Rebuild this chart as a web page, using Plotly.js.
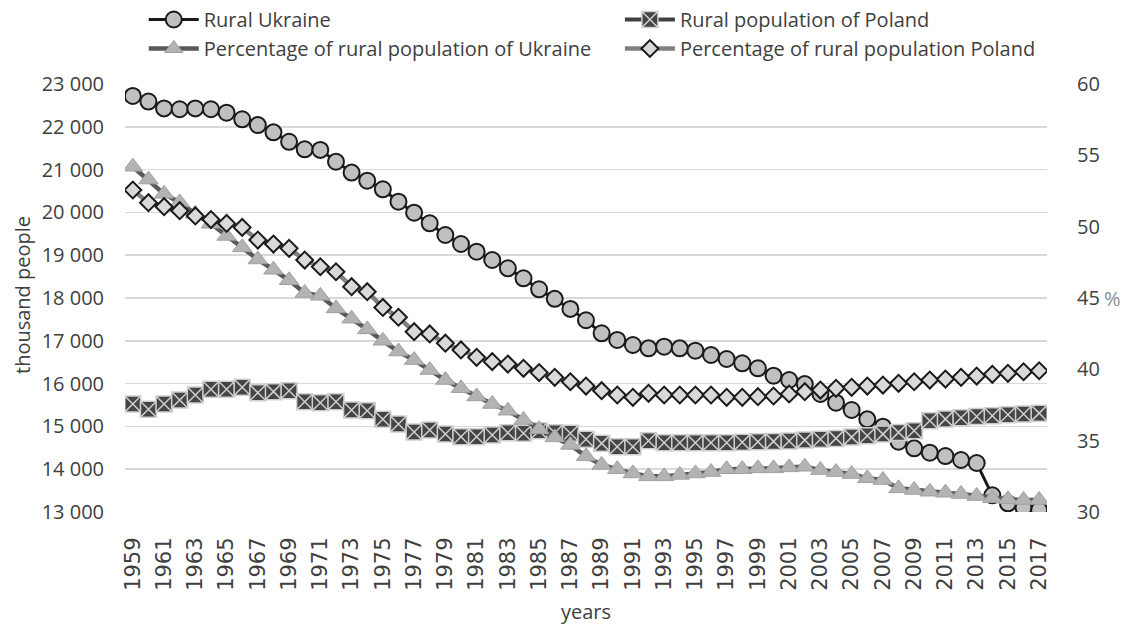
<!DOCTYPE html>
<html>
<head>
<meta charset="utf-8">
<script src="https://cdn.plot.ly/plotly-3.0.1.min.js"></script>
<style>html,body{margin:0;padding:0;background:#fff;}#chart{width:1123px;height:625px;}</style>
</head>
<body>
<div id="chart"></div>
<script>
const years = [1959,1960,1961,1962,1963,1964,1965,1966,1967,1968,1969,1970,1971,1972,1973,1974,1975,1976,1977,1978,1979,1980,1981,1982,1983,1984,1985,1986,1987,1988,1989,1990,1991,1992,1993,1994,1995,1996,1997,1998,1999,2000,2001,2002,2003,2004,2005,2006,2007,2008,2009,2010,2011,2012,2013,2014,2015,2016,2017];

const tickYears = [1959,1961,1963,1965,1967,1969,1971,1973,1975,1977,1979,1981,1983,1985,1987,1989,1991,1993,1995,1997,1999,2001,2003,2005,2007,2009,2011,2013,2015,2017];
const tickLabels = ["1959","1961","1963","1965","1967","1969","1971","1973","1975","1977","1979","1981","1983","1985","1987","1989","1991","1993","1995","1997","1999","2001","2003","2005","2007","2009","2011","2013","2015","2017"];

// thousand people (left axis)
const ruralUkraine = [22720,22590,22430,22410,22430,22410,22330,22175,22040,21870,21650,21475,21460,21185,20930,20740,20540,20250,19993,19745,19472,19262,19082,18888,18694,18460,18203,17980,17745,17480,17175,17020,16902,16824,16862,16824,16769,16668,16575,16474,16357,16185,16084,15991,15757,15554,15383,15165,14993,14643,14487,14386,14308,14215,14145,13390,13203,13100,13047];

const ruralPoland = [15524,15400,15524,15617,15734,15867,15867,15914,15788,15812,15835,15578,15554,15578,15383,15367,15165,15056,14870,14916,14822,14760,14760,14799,14853,14838,14900,14853,14838,14698,14604,14526,14526,14666,14620,14620,14620,14620,14620,14630,14640,14650,14660,14680,14700,14720,14750,14780,14820,14860,14900,15130,15170,15200,15230,15250,15270,15290,15310];

// percent (right axis)
const pctUkraine = [54.2,53.3,52.3,51.7,50.9,50.2,49.35,48.55,47.7,46.98,46.24,45.35,45.15,44.27,43.55,42.8,42.0,41.25,40.65,39.95,39.25,38.67,38.1,37.57,37.1,36.45,35.8,35.23,34.7,33.9,33.3,33.0,32.7,32.5,32.5,32.6,32.7,32.8,33.0,33.0,33.06,33.06,33.13,33.17,32.94,32.8,32.66,32.36,32.24,31.66,31.54,31.42,31.35,31.26,31.12,30.96,30.89,30.84,30.84];

const pctPoland = [52.57,51.68,51.4,51.12,50.75,50.5,50.23,49.95,49.06,48.78,48.48,47.66,47.19,46.84,45.79,45.44,44.34,43.65,42.64,42.48,41.83,41.36,40.84,40.54,40.37,40.07,39.77,39.44,39.13,38.83,38.5,38.2,38.04,38.32,38.2,38.2,38.2,38.2,38.04,38.04,38.08,38.13,38.27,38.43,38.55,38.67,38.74,38.83,38.9,39.02,39.13,39.25,39.32,39.44,39.53,39.65,39.72,39.83,39.9];

const seriesNames = ["Rural Ukraine","Rural population of Poland","Percentage of rural population of Ukraine","Percentage of rural population Poland"];
const yTitleLeft = "thousand people";
const yTitleRight = "%";
const xTitle = "years";

const FONT = "'Open Sans', 'Noto Sans', sans-serif";
const TXT = "#404040";
const FS = 20;

const traces = [
  {
    x: years, y: ruralUkraine, name: seriesNames[0], type: "scatter", mode: "lines+markers",
    line: {color: "#1a1a1a", width: 3},
    marker: {symbol: "circle", size: 16, color: "#c0c0c0", line: {color: "#1a1a1a", width: 2}},
    yaxis: "y", legend: "legend"
  },
  {
    x: years, y: ruralPoland, name: seriesNames[1], type: "scatter", mode: "lines+markers",
    line: {color: "#404040", width: 4},
    marker: {symbol: "square-x", size: 16, color: "#454545", line: {color: "#cfcfcf", width: 1.5}},
    yaxis: "y", legend: "legend2"
  },
  {
    x: years, y: pctUkraine, name: seriesNames[2], type: "scatter", mode: "lines+markers",
    line: {color: "#595959", width: 4.5},
    marker: {symbol: "triangle-up", size: 17, color: "#b3b3b3", line: {color: "#a0a0a0", width: 1}},
    yaxis: "y2", legend: "legend"
  },
  {
    x: years, y: pctPoland, name: seriesNames[3], type: "scatter", mode: "lines+markers",
    line: {color: "#808080", width: 4.5},
    marker: {symbol: "diamond", size: 13, color: "#d9d9d9", line: {color: "#1a1a1a", width: 2}},
    yaxis: "y2", legend: "legend2"
  }
];

const legendCommon = {
  orientation: "v", xref: "container", yref: "container",
  xanchor: "left", y: 1.0, yanchor: "top", itemwidth: 50,
  font: {family: FONT, size: FS, color: TXT},
  bgcolor: "rgba(0,0,0,0)", traceorder: "normal", tracegroupgap: 0
};

const layout = {
  width: 1123, height: 625,
  margin: {l: 125, r: 76, t: 84, b: 113, pad: 0, autoexpand: false},
  paper_bgcolor: "#ffffff", plot_bgcolor: "#ffffff",
  separators: ". ",
  font: {family: FONT, size: FS, color: TXT},
  showlegend: true,
  legend: Object.assign({}, legendCommon, {x: 0.128}),
  legend2: Object.assign({}, legendCommon, {x: 0.552}),
  xaxis: {
    range: [1958.5, 2017.5],
    tickmode: "array", tickvals: tickYears, ticktext: tickLabels,
    tickangle: -90,
    tickfont: {family: "'DejaVu Sans', sans-serif", size: 21, color: TXT},
    ticks: "outside", ticklen: 16, tickcolor: "rgba(0,0,0,0)",
    showgrid: false, zeroline: false, showline: false,
    title: {text: xTitle, font: {family: FONT, size: FS, color: TXT}, standoff: 20}
  },
  yaxis: {
    range: [13000, 23000], dtick: 1000, tickformat: ",d",
    gridcolor: "#d9d9d9", gridwidth: 1.5, zeroline: false, showline: false,
    ticks: "outside", ticklen: 16, tickcolor: "rgba(0,0,0,0)",
    tickfont: {family: FONT, size: FS, color: TXT}
  },
  yaxis2: {
    range: [30, 60], dtick: 5, overlaying: "y", side: "right",
    showgrid: false, zeroline: false, showline: false,
    ticks: "outside", ticklen: 25, tickcolor: "rgba(0,0,0,0)",
    tickfont: {family: FONT, size: FS, color: TXT}
  },
  annotations: [
    {text: yTitleLeft, xref: "paper", yref: "paper", x: 0, xshift: -103, y: 0.5, yshift: 3,
     textangle: -90, xanchor: "center", yanchor: "middle", showarrow: false,
     font: {family: FONT, size: FS, color: TXT}},
    {text: yTitleRight, xref: "paper", yref: "paper", x: 1.0, xshift: 65, y: 0.5, yshift: 0,
     xanchor: "center", yanchor: "middle", showarrow: false,
     font: {family: FONT, size: FS, color: "#8c8c8c"}}
  ]
};

Plotly.newPlot("chart", traces, layout, {displayModeBar: false, staticPlot: true});
</script>
</body>
</html>
